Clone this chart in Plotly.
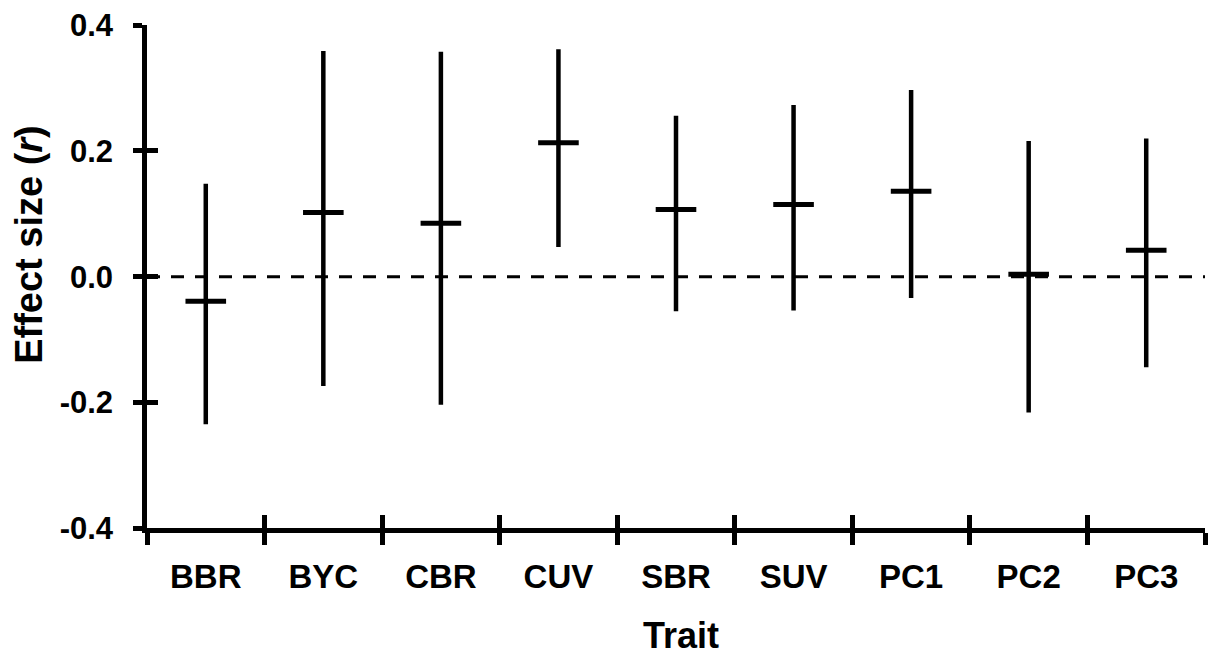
import plotly.graph_objects as go

traits = ["BBR", "BYC", "CBR", "CUV", "SBR", "SUV", "PC1", "PC2", "PC3"]
effect = [-0.039, 0.102, 0.085, 0.213, 0.107, 0.115, 0.136, 0.004, 0.042]
upper = [0.148, 0.359, 0.358, 0.362, 0.256, 0.273, 0.297, 0.216, 0.220]
lower = [-0.235, -0.174, -0.204, 0.047, -0.055, -0.054, -0.034, -0.216, -0.144]
y_tickvals = [0.4, 0.2, 0.0, -0.2, -0.4]
y_ticktext = ["0.4", "0.2", "0.0", "-0.2", "-0.4"]
y_range = [-0.4, 0.4005]

err_plus = [u - m for u, m in zip(upper, effect)]
err_minus = [m - l for m, l in zip(effect, lower)]

FONT = "Liberation Sans, Arial, sans-serif"

fig = go.Figure()
fig.add_trace(go.Scatter(
    x=traits, y=effect, mode="markers",
    marker=dict(symbol="line-ew", size=29, color="black",
                line=dict(color="black", width=5)),
    error_y=dict(type="data", symmetric=False, array=err_plus,
                 arrayminus=err_minus, thickness=4.5, width=0, color="black"),
    showlegend=False, hoverinfo="skip",
))
# invisible trace to give the overlay axes their categories
fig.add_trace(go.Scatter(
    x=traits, y=effect, mode="markers", xaxis="x2", yaxis="y2",
    marker=dict(opacity=0), showlegend=False, hoverinfo="skip",
))

fig.add_shape(type="line", xref="paper", x0=0, x1=1, yref="y", y0=0, y1=0,
              line=dict(color="black", width=3, dash="13px,11px"), layer="below")

fig.update_layout(
    width=1213, height=661,
    margin=dict(l=147, r=8, t=22.3, b=133, pad=0),
    paper_bgcolor="white", plot_bgcolor="white",
    font=dict(family=FONT, color="black"),
    xaxis=dict(
        type="category", categoryorder="array", categoryarray=traits,
        range=[-0.5, len(traits) - 0.5],
        tickson="boundaries", ticks="outside", ticklen=12, tickwidth=4.5,
        tickcolor="black", showline=True, linewidth=4.5, linecolor="black",
        showgrid=False, zeroline=False,
        tickfont=dict(family=FONT, size=33, color="black", weight="bold"),
        ticklabelstandoff=16,
    ),
    xaxis2=dict(
        type="category", categoryorder="array", categoryarray=traits,
        range=[-0.5, len(traits) - 0.5], overlaying="x", side="bottom",
        tickson="boundaries", ticks="inside", ticklen=13, tickwidth=4.5,
        tickcolor="black", showticklabels=False, showline=False,
        showgrid=False, zeroline=False,
    ),
    yaxis=dict(
        range=y_range, tickmode="array", tickvals=y_tickvals,
        ticktext=y_ticktext, ticks="outside", ticklen=9, tickwidth=4.5,
        tickcolor="black", showline=True, linewidth=4.5, linecolor="black",
        showgrid=False, zeroline=False,
        tickfont=dict(family=FONT, size=31, color="black", weight="bold"),
        ticklabelstandoff=14,
    ),
    yaxis2=dict(
        range=y_range, overlaying="y", side="left", tickmode="array",
        tickvals=y_tickvals, ticks="inside", ticklen=11, tickwidth=4.5,
        tickcolor="black", showticklabels=False, showline=False,
        showgrid=False, zeroline=False,
    ),
    annotations=[
        dict(text="<b>Effect size (<i>r</i>)</b>", textangle=-90,
             xref="paper", yref="paper", x=-0.111, y=0.564,
             xanchor="center", yanchor="middle", showarrow=False,
             font=dict(family=FONT, size=38, color="black")),
        dict(text="<b>Trait</b>", xref="paper", yref="paper",
             x=0.5047, y=-0.213, xanchor="center", yanchor="middle",
             showarrow=False, font=dict(family=FONT, size=36, color="black")),
    ],
)

fig.write_html("out.html")
